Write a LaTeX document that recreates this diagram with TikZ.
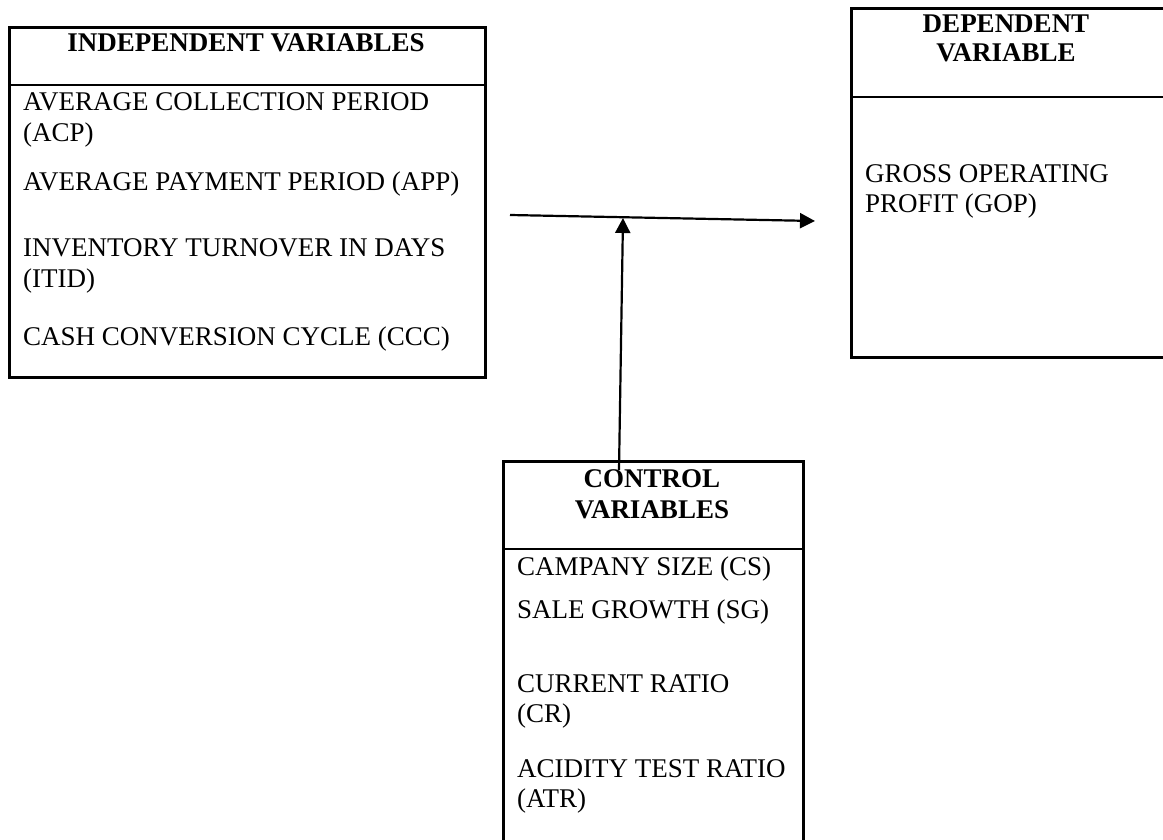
\documentclass[tikz,border=0pt]{standalone}
\usepackage{fontspec}
\setmainfont{Liberation Serif}
\usetikzlibrary{arrows.meta}
\begin{document}
\begin{tikzpicture}[x=1pt,y=-1pt,
  panel/.style={draw,line width=2.6pt,rectangle,anchor=north west,inner sep=0pt},
  divline/.style={line width=2.6pt},
  txt/.style={anchor=base west,inner sep=0pt,font=\fontsize{27}{31}\selectfont},
  hdr/.style={anchor=base,inner sep=0pt,font=\fontsize{27}{31}\selectfont\bfseries},
  arr/.style={line width=2.2pt,-{Triangle[length=15pt,width=15pt]}}]
\useasboundingbox (0,0) rectangle (1163,840);
% independent box
\node[panel,minimum width=476pt,minimum height=350pt] (ind) at (8,26) {};
\draw[divline] (ind.west |- 0,85) -- (ind.east |- 0,85);
\node[hdr] (indh) at (246,52) {INDEPENDENT VARIABLES};
\node[txt] (acp1) at (23,111) {AVERAGE COLLECTION PERIOD};
\node[txt] (acp2) at (23,142) {(ACP)};
\node[txt] (app) at (23,191) {AVERAGE PAYMENT PERIOD (APP)};
\node[txt] (itid1) at (23,256) {INVENTORY TURNOVER IN DAYS};
\node[txt] (itid2) at (23,287) {(ITID)};
\node[txt] (ccc) at (23,345) {CASH CONVERSION CYCLE (CCC)};
% dependent box
\node[panel,minimum width=316pt,minimum height=349pt] (dep) at (850,7) {};
\draw[divline] (dep.west |- 0,97) -- (dep.east |- 0,97);
\node[hdr] (deph1) at (1006,33) {DEPENDENT};
\node[hdr] (deph2) at (1006,62) {VARIABLE};
\node[txt] (gop1) at (865,183) {GROSS OPERATING};
\node[txt] (gop2) at (865,213) {PROFIT (GOP)};
% control box
\node[panel,minimum width=300pt,minimum height=384pt] (ctl) at (502,460) {};
\draw[divline] (ctl.west |- 0,549) -- (ctl.east |- 0,549);
\node[hdr] (ctlh1) at (652,487) {CONTROL};
\node[hdr] (ctlh2) at (652,518) {VARIABLES};
\node[txt] (cs) at (517,575) {CAMPANY SIZE (CS)};
\node[txt] (sg) at (517,618) {SALE GROWTH (SG)};
\node[txt] (cr1) at (517,692) {CURRENT RATIO};
\node[txt] (cr2) at (517,722) {(CR)};
\node[txt] (atr1) at (517,777) {ACIDITY TEST RATIO};
\node[txt] (atr2) at (517,807) {(ATR)};
% arrows
\coordinate (hs) at (510,215);
\coordinate (he) at (815,221);
\draw[arr] (hs) -- (he);
\coordinate (vs) at (619,470);
\coordinate (ve) at (623,218);
\draw[arr] (vs) -- (ve);
\end{tikzpicture}
\end{document}
